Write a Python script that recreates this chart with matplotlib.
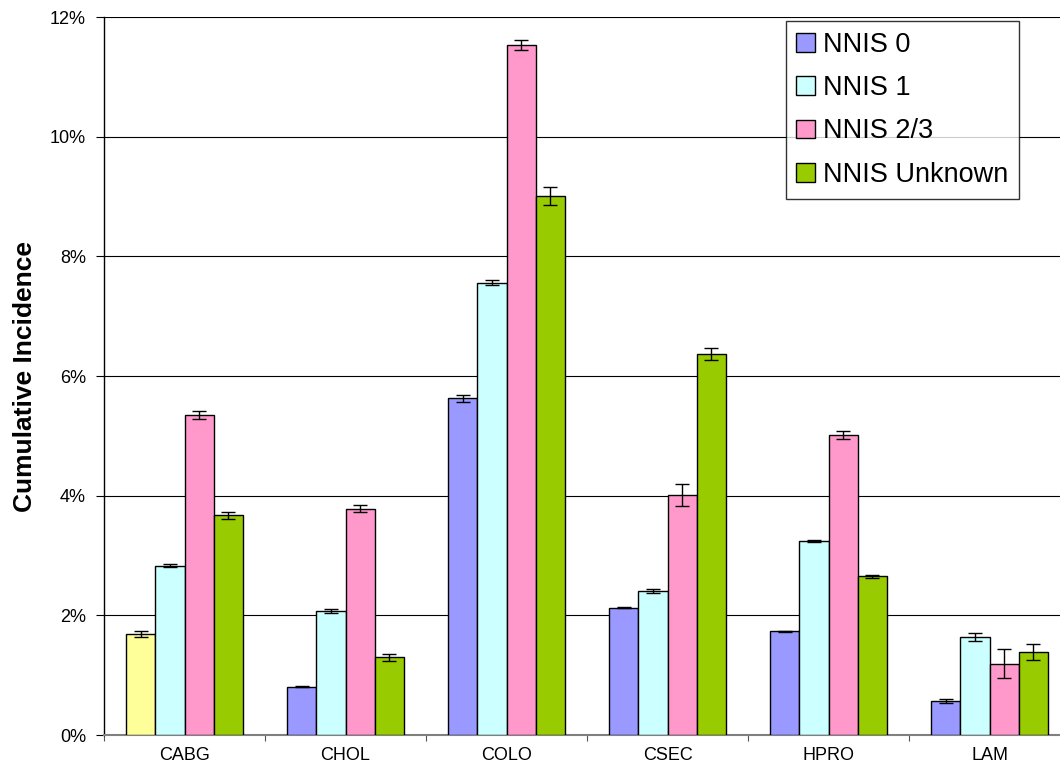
import matplotlib
matplotlib.use("Agg")
import matplotlib.pyplot as plt
import numpy as np
from matplotlib.ticker import FuncFormatter
from matplotlib.patches import Patch

categories = ["CABG", "CHOL", "COLO", "CSEC", "HPRO", "LAM"]
series = ["NNIS 0", "NNIS 1", "NNIS 2/3", "NNIS Unknown"]
nnis0 = [1.69, 0.81, 5.63, 2.13, 1.73, 0.57]
nnis1 = [2.83, 2.07, 7.56, 2.41, 3.24, 1.64]
nnis23 = [5.35, 3.78, 11.53, 4.01, 5.01, 1.19]
nnisU = [3.67, 1.30, 9.01, 6.37, 2.65, 1.39]
err0 = [0.05, 0.01, 0.06, 0.01, 0.01, 0.03]
err1 = [0.02, 0.03, 0.04, 0.03, 0.02, 0.07]
err23 = [0.07, 0.06, 0.08, 0.18, 0.065, 0.245]
errU = [0.06, 0.06, 0.15, 0.10, 0.03, 0.13]
y_ticks = [0, 2, 4, 6, 8, 10, 12]

values = [nnis0, nnis1, nnis23, nnisU]
errors = [err0, err1, err23, errU]
colors = ["#9999FF", "#CCFFFF", "#FF99CC", "#99CC00"]
special_color = "#FFFF99"  # CABG NNIS 0 bar drawn in yellow

plt.rcParams['font.family'] = ['Liberation Sans', 'DejaVu Sans']

fig = plt.figure(figsize=(10.6, 7.72), dpi=100)
W, H = 1060, 772
left, right, top, bottom = 104, 1070, 17, 735
ax = fig.add_axes([left / W, 1 - bottom / H, (right - left) / W, (bottom - top) / H])

n = len(categories)
x = np.arange(n) + 0.5
bw = 0.7273 / 4
for i, (vals, errs, col) in enumerate(zip(values, errors, colors)):
    pos = x - 2 * bw + bw / 2 + i * bw
    facecols = [col] * n
    if i == 0:
        facecols[0] = special_color
    ax.bar(pos, vals, width=bw, color=facecols, edgecolor="black", linewidth=1.0,
           label=series[i], zorder=3)
    ax.errorbar(pos, vals, yerr=errs, fmt="none", ecolor="black", elinewidth=1.0,
                capsize=4.7, capthick=1.0, zorder=4)

ax.set_xlim(0, n)
ax.set_ylim(0, 12)
ax.set_yticks(y_ticks)
ax.yaxis.set_major_formatter(FuncFormatter(lambda v, p: f"{int(v)}%"))
ax.grid(axis="y", color="black", linewidth=0.8, zorder=0)
ax.set_axisbelow(True)

ax.set_xticks(np.arange(n + 1))
ax.set_xticklabels([])
ax.set_xticks(x, minor=True)
ax.set_xticklabels(categories, minor=True)
ax.tick_params(axis="x", which="major", length=4, width=0.8, color="#555555", direction="out")
ax.tick_params(axis="x", which="minor", length=0, pad=9, labelsize=13)
ax.tick_params(axis="y", length=6, width=0.8, pad=7, labelsize=13)

for s in ["top", "right"]:
    ax.spines[s].set_visible(False)
ax.spines["left"].set_color("black")
ax.spines["left"].set_linewidth(1.0)
ax.spines["bottom"].set_color("#808080")
ax.spines["bottom"].set_linewidth(1.5)

ax.set_ylabel("Cumulative Incidence", fontsize=19, fontweight="bold", labelpad=9)

handles = [Patch(facecolor=c, edgecolor="black", linewidth=1.0) for c in colors]
leg = fig.legend(handles, series, loc="upper right",
                 bbox_to_anchor=(1019 / W, 1 - 21 / H), bbox_transform=fig.transFigure,
                 fontsize=19.5, frameon=True, fancybox=False, borderaxespad=0,
                 handlelength=0.68, handleheight=0.68, handletextpad=0.3,
                 labelspacing=0.64, borderpad=0.4)
leg.get_frame().set_edgecolor("black")
leg.get_frame().set_linewidth(1.0)

fig.savefig("out.png", dpi=100)
